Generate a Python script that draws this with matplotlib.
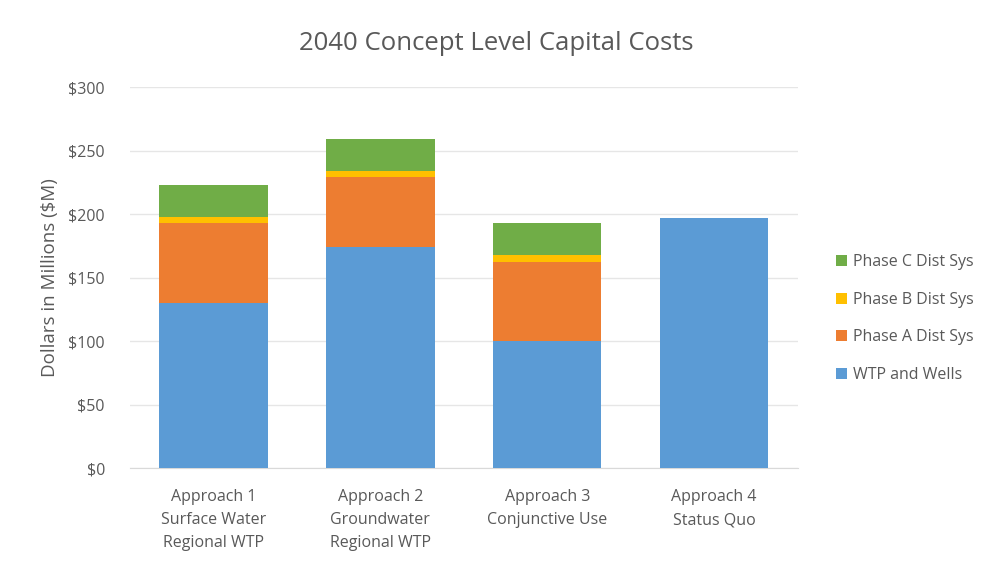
import matplotlib
matplotlib.use("Agg")
import matplotlib.pyplot as plt
import numpy as np

categories = ["Approach 1\nSurface Water\nRegional WTP",
              "Approach 2\nGroundwater\nRegional WTP",
              "Approach 3\nConjunctive Use",
              "Approach 4\nStatus Quo"]
wtp_wells = [130, 174, 100, 197]
phase_a = [63, 55, 62, 0]
phase_b = [5, 5, 6, 0]
phase_c = [25, 25, 25, 0]

series = [("WTP and Wells", wtp_wells, "#5B9BD5"),
          ("Phase A Dist Sys", phase_a, "#ED7D31"),
          ("Phase B Dist Sys", phase_b, "#FFC000"),
          ("Phase C Dist Sys", phase_c, "#70AD47")]

plt.rcParams["font.family"] = ["Open Sans", "DejaVu Sans"]
text_color = "#595959"

fig = plt.figure(figsize=(9.92, 5.69), dpi=100)
ax = fig.add_axes([0.131, 0.1775, 0.673, 0.6695])

x = np.arange(len(categories))
bottom = np.zeros(len(categories))
handles = []
for name, vals, color in series:
    h = ax.bar(x, vals, bottom=bottom, width=0.65, color=color, label=name, zorder=3)
    handles.append(h)
    bottom += np.array(vals)

ax.set_xlim(-0.5, len(categories) - 0.5)
ax.set_ylim(0, 300)
ax.set_yticks(np.arange(0, 301, 50))
ax.set_yticklabels([f"${v}" for v in range(0, 301, 50)])
ax.set_xticks(x)
ax.set_xticklabels(categories, fontsize=11.5, color=text_color, linespacing=1.6)
ax.tick_params(axis="y", labelsize=11.5, labelcolor=text_color, length=0, pad=18)
ax.tick_params(axis="x", length=0, pad=15)
ax.grid(axis="y", color="#E6E6E6", linewidth=1, zorder=0)
for s in ["top", "right", "left"]:
    ax.spines[s].set_visible(False)
ax.spines["bottom"].set_color("#D9D9D9")

ax.set_ylabel("Dollars in Millions ($M)", fontsize=13.5, color=text_color, labelpad=7)
fig.suptitle("2040 Concept Level Capital Costs", fontsize=18.5, color=text_color, y=0.945)

fig.legend(handles[::-1], [s[0] for s in series][::-1], loc="center left",
           bbox_to_anchor=(0.828, 0.44), frameon=False, fontsize=11.5,
           labelcolor=text_color, handlelength=0.7, handleheight=0.7,
           handletextpad=0.4, labelspacing=1.35)

fig.savefig("out.png", dpi=100)
